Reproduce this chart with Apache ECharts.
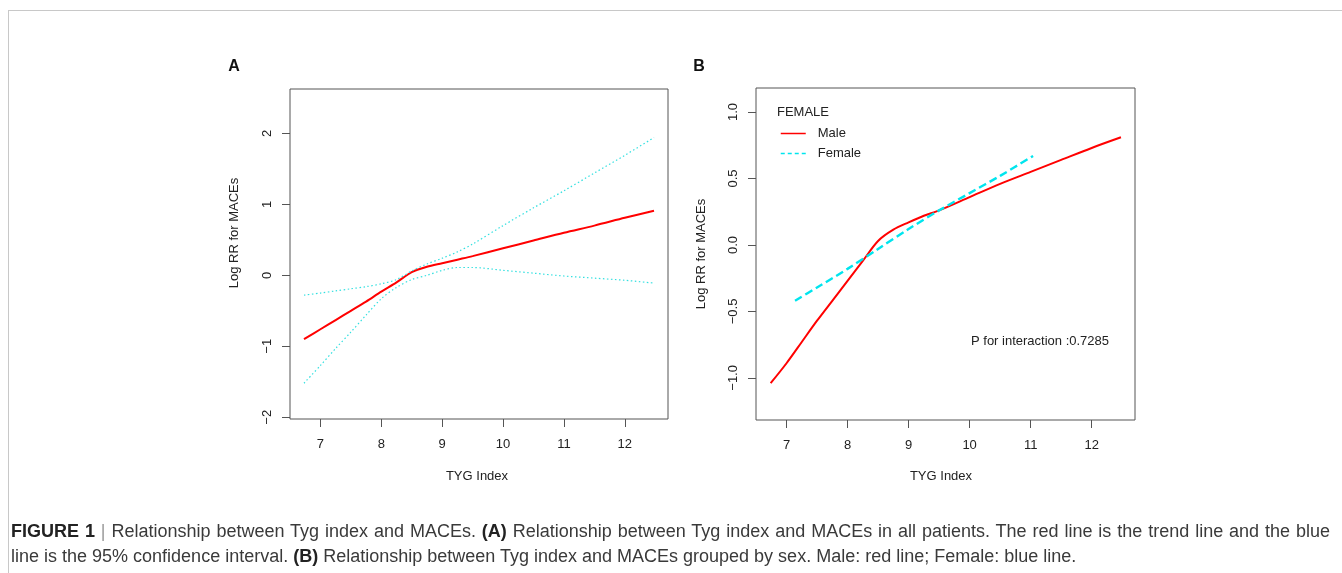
<!DOCTYPE html>
<html>
<head>
  <meta charset="UTF-8">
  <title>TYG Index and MACEs</title>
  <script src="https://cdn.jsdelivr.net/npm/echarts@6/dist/echarts.min.js"></script>
  <style>
    body { margin: 0; background: #fff; }
    #wrap { position: relative; width: 1342px; height: 573px; overflow: hidden; }
    #frame { position: absolute; left: 8px; top: 10px; right: 0; bottom: 0;
             border-top: 1px solid #c8c8c8; border-left: 1px solid #c8c8c8; }
    #main { position: absolute; left: 0; top: 0; width: 1342px; height: 573px; }
    #caption { position: absolute; left: 11px; top: 519px; width: 1319px; font-family: 'Liberation Sans', Arial, sans-serif;
               font-size: 18px; line-height: 25px; color: #3a3a3a; white-space: nowrap; }
    #caption .l1 { text-align: justify; text-align-last: justify; }
    #caption b { color: #222; }
    #caption .bar { color: #999; }
  </style>
</head>
<body>
<div id="wrap">
  <div id="frame"></div>
  <div id="main"></div>
  <div id="caption">
    <div class="l1"><b>FIGURE 1</b> <span class="bar">|</span> Relationship between Tyg index and MACEs. <b>(A)</b> Relationship between Tyg index and MACEs in all patients. The red line is the trend line and the blue</div>
    <div>line is the 95% confidence interval. <b>(B)</b> Relationship between Tyg index and MACEs grouped by sex. Male: red line; Female: blue line.</div>
  </div>
</div>
<script type="text/javascript">
  // panel A: trend + 95% CI
  var xA = [6.73, 7, 7.25, 7.5, 7.75, 8, 8.25, 8.5, 8.75, 9, 9.25, 9.5, 10, 10.5, 11, 11.5, 12, 12.48];
  var trendA = [-0.90, -0.76, -0.63, -0.50, -0.37, -0.23, -0.10, 0.045, 0.12, 0.17, 0.22, 0.27, 0.38, 0.49, 0.60, 0.70, 0.81, 0.91];
  var upperA = [-0.28, -0.25, -0.22, -0.19, -0.16, -0.12, -0.06, 0.06, 0.16, 0.24, 0.33, 0.44, 0.70, 0.95, 1.19, 1.44, 1.69, 1.94];
  var lowerA = [-1.52, -1.27, -1.03, -0.80, -0.56, -0.33, -0.17, -0.06, 0.00, 0.07, 0.11, 0.11, 0.07, 0.03, -0.01, -0.04, -0.07, -0.11];

  // panel B: by sex
  var xMale = [6.74, 7, 7.25, 7.5, 7.75, 8, 8.25, 8.5, 8.75, 9, 9.25, 9.5, 10, 10.5, 11, 11.5, 12, 12.48];
  var male = [-1.04, -0.89, -0.73, -0.57, -0.42, -0.27, -0.12, 0.03, 0.115, 0.17, 0.22, 0.26, 0.36, 0.46, 0.55, 0.64, 0.73, 0.81];
  var xFemale = [7.14, 7.5, 8, 8.5, 9, 9.5, 10, 10.5, 11.04];
  var female = [-0.42, -0.32, -0.18, -0.03, 0.12, 0.26, 0.39, 0.52, 0.67];

  var xTicks = [7, 8, 9, 10, 11, 12];
  var yTicksA = [-2, -1, 0, 1, 2];
  var yTicksB = [-1, -0.5, 0, 0.5, 1];

  function pairs(xs, ys) {
    return xs.map(function(x, i) { return [x, ys[i]]; });
  }
  // R prints a real minus sign
  function minus(s) {
    return s.replace('-', '\u2212');
  }

  var font = "'Liberation Sans', Arial, sans-serif";
  var ink = '#222';
  var boxColor = '#555';

  function xAxisFor(gi) {
    return {
      type: 'value', gridIndex: gi, min: 6.5, max: 12.71,
      axisLine: { show: false, onZero: false },
      axisTick: { show: true, length: 8, customValues: xTicks, lineStyle: { color: boxColor } },
      axisLabel: { customValues: xTicks, margin: 19, color: ink, fontSize: 13, fontFamily: font },
      splitLine: { show: false }
    };
  }
  function yAxisFor(gi, min, max, ticks, fmt) {
    return {
      type: 'value', gridIndex: gi, min: min, max: max,
      axisLine: { show: false, onZero: false },
      axisTick: { show: true, length: 8, customValues: ticks, lineStyle: { color: boxColor } },
      axisLabel: { customValues: ticks, rotate: 90, margin: 16, color: ink, fontSize: 13, fontFamily: font, formatter: fmt },
      splitLine: { show: false }
    };
  }

  var option = {
    animation: false,
    textStyle: { fontFamily: font },
    grid: [
      { left: 290, top: 89, width: 378, height: 330, show: true, borderColor: boxColor, borderWidth: 1 },
      { left: 756, top: 88, width: 379, height: 332, show: true, borderColor: boxColor, borderWidth: 1 }
    ],
    xAxis: [xAxisFor(0), xAxisFor(1)],
    yAxis: [
      yAxisFor(0, -2.024, 2.624, yTicksA, function(v) { return minus(String(v)); }),
      yAxisFor(1, -1.317, 1.181, yTicksB, function(v) { return minus(v.toFixed(1)); })
    ],
    legend: {
      data: [
        { name: 'Male', itemStyle: { opacity: 0 }, lineStyle: { width: 1.5 } },
        { name: 'Female', itemStyle: { opacity: 0 }, lineStyle: { width: 1.5, type: [4, 3] } }
      ],
      orient: 'vertical', left: 780, top: 127, padding: 0,
      itemWidth: 25, itemHeight: 10, itemGap: 7,
      textStyle: { color: ink, fontSize: 13, fontFamily: font, padding: [0, 0, 0, 7] }
    },
    graphic: [
      { type: 'text', x: 234, y: 67, style: { text: 'A', font: 'bold 16px ' + font, fill: '#111', align: 'center', verticalAlign: 'middle' } },
      { type: 'text', x: 699, y: 67, style: { text: 'B', font: 'bold 16px ' + font, fill: '#111', align: 'center', verticalAlign: 'middle' } },
      { type: 'text', x: 477, y: 476, style: { text: 'TYG Index', font: '13px ' + font, fill: ink, align: 'center', verticalAlign: 'middle' } },
      { type: 'text', x: 941, y: 476, style: { text: 'TYG Index', font: '13px ' + font, fill: ink, align: 'center', verticalAlign: 'middle' } },
      { type: 'text', x: 234, y: 233, rotation: Math.PI / 2, style: { text: 'Log RR for MACEs', font: '13px ' + font, fill: ink, align: 'center', verticalAlign: 'middle' } },
      { type: 'text', x: 701, y: 254, rotation: Math.PI / 2, style: { text: 'Log RR for MACEs', font: '13px ' + font, fill: ink, align: 'center', verticalAlign: 'middle' } },
      { type: 'text', x: 777, y: 112, style: { text: 'FEMALE', font: '13px ' + font, fill: ink, align: 'left', verticalAlign: 'middle' } },
      { type: 'text', x: 971, y: 341, style: { text: 'P for interaction :0.7285', font: '13px ' + font, fill: ink, align: 'left', verticalAlign: 'middle' } }
    ],
    series: [
      { name: 'Trend', type: 'line', xAxisIndex: 0, yAxisIndex: 0, data: pairs(xA, trendA), symbol: 'none', smooth: 0.3,
        lineStyle: { color: '#ff0000', width: 2 } },
      { name: 'Upper 95% CI', type: 'line', xAxisIndex: 0, yAxisIndex: 0, data: pairs(xA, upperA), symbol: 'none', smooth: 0.3,
        lineStyle: { color: '#33e0e0', width: 1.2, type: [1.5, 2.5] } },
      { name: 'Lower 95% CI', type: 'line', xAxisIndex: 0, yAxisIndex: 0, data: pairs(xA, lowerA), symbol: 'none', smooth: 0.3,
        lineStyle: { color: '#33e0e0', width: 1.2, type: [1.5, 2.5] } },
      { name: 'Male', type: 'line', xAxisIndex: 1, yAxisIndex: 1, data: pairs(xMale, male), symbol: 'none', smooth: 0.3,
        color: '#ff0000', lineStyle: { color: '#ff0000', width: 2 } },
      { name: 'Female', type: 'line', xAxisIndex: 1, yAxisIndex: 1, data: pairs(xFemale, female), symbol: 'none', smooth: 0.3,
        color: '#00e5ee', lineStyle: { color: '#00e5ee', width: 2.4, type: [8, 4] } }
    ]
  };

  var myChart = echarts.init(document.getElementById('main'));
  myChart.setOption(option);
</script>
</body>
</html>
